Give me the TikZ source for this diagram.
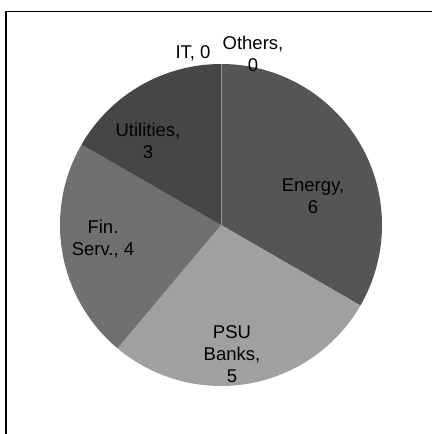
\documentclass[tikz,border=0pt]{standalone}
\usepackage{fontspec}
\setmainfont{Liberation Sans}
\definecolor{energyfill}{RGB}{85,85,85}
\definecolor{psufill}{RGB}{160,160,160}
\definecolor{finfill}{RGB}{112,112,112}
\definecolor{utilfill}{RGB}{70,70,70}
\definecolor{zeroline}{RGB}{150,150,150}
\begin{document}
\begin{tikzpicture}[
    x=1pt, y=1pt,
    slice/.style={draw=none},
    lbl/.style={align=center, inner sep=0pt, font=\fontsize{18.5}{21.7}\selectfont}
  ]
  \useasboundingbox (0,0) rectangle (432,434);

  % Frame, only top and left edges inside the picture
  \draw[line width=1.5pt] (5.8,0) -- (5.8,422.5) -- (432,422.5);

  % Pie slices, clockwise from the top (total 18)
  \coordinate (c) at (221,209);
  \fill[slice, fill=energyfill] (c) -- ++(90:161) arc[start angle=90, end angle=-30, radius=161] -- cycle;
  \fill[slice, fill=psufill] (c) -- ++(-30:161) arc[start angle=-30, end angle=-130, radius=161] -- cycle;
  \fill[slice, fill=finfill] (c) -- ++(-130:161) arc[start angle=-130, end angle=-210, radius=161] -- cycle;
  \fill[slice, fill=utilfill] (c) -- ++(150:161) arc[start angle=150, end angle=90, radius=161] -- cycle;
  % IT and Others are zero, only a thin line at the top
  \draw[zeroline, line width=0.8pt] (c) -- ++(90:161);

  % Data labels
  \node[lbl] (energy) at (313,238) {Energy,\\6};
  \node[lbl] (psu) at (232,80) {PSU\\Banks,\\5};
  \node[lbl] (fin) at (103,195) {Fin.\\Serv., 4};
  \node[lbl] (util) at (148,293) {Utilities,\\3};
  \node[lbl] (it) at (193,381) {IT, 0};
  \node[lbl] (others) at (253,380) {Others,\\0};

\end{tikzpicture}
\end{document}
